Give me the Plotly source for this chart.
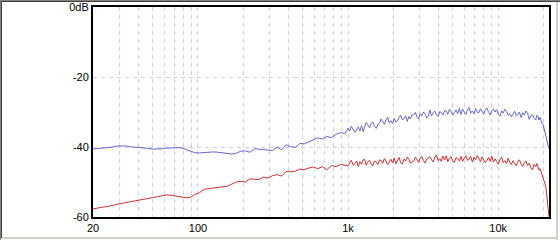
import plotly.graph_objects as go

# ---- data ----
freq_low = [
    20, 21.5, 23, 25, 27, 29, 31, 33, 35, 38,
    41, 44, 47, 50, 54, 58, 62, 67, 72, 77,
    83, 89, 95, 102, 110, 118, 127, 136, 146, 157,
    168, 180, 193, 207, 222, 238, 255, 273, 293, 314,
    337, 361, 387, 415, 445, 477, 511, 548, 587, 629,
    674, 722, 774, 830, 890, 954,
]
blue_low = [
    -40.6, -40.5, -40.3, -40.1, -40.0, -39.7, -39.6, -39.7, -39.9, -40.0,
    -40.2, -40.3, -40.4, -40.6, -40.6, -40.5, -40.3, -40.2, -40.2, -40.2,
    -40.7, -41.2, -41.6, -41.7, -41.6, -41.3, -41.4, -41.5, -41.6, -41.8,
    -42.0, -41.8, -41.2, -41.1, -41.5, -40.5, -40.6, -40.6, -40.7, -41.0,
    -40.0, -40.8, -39.4, -39.9, -40.1, -39.0, -39.1, -38.5, -38.0, -37.4,
    -37.7, -37.0, -37.3, -36.4, -35.9, -36.1,
]
red_low = [
    -57.7, -57.4, -57.2, -57.0, -56.6, -56.3, -56.1, -55.9, -55.7, -55.4,
    -55.2, -55.0, -54.7, -54.5, -54.2, -54.0, -53.7, -53.8, -54.1, -54.3,
    -54.5, -54.4, -53.6, -53.1, -52.1, -51.9, -51.7, -51.5, -51.4, -51.2,
    -50.6, -50.0, -49.8, -50.0, -49.1, -49.3, -49.3, -48.6, -48.9, -48.2,
    -47.9, -48.3, -47.0, -47.1, -46.9, -46.3, -46.5, -46.0, -45.7, -46.2,
    -45.6, -46.5, -45.3, -45.6, -45.0, -45.2,
]

freq_high = [
    1000, 1025, 1050, 1080, 1110, 1140, 1170, 1200, 1230, 1260,
    1290, 1320, 1355, 1390, 1425, 1460, 1500, 1540, 1580, 1620,
    1660, 1700, 1745, 1790, 1835, 1880, 1930, 1980, 2030, 2080,
    2130, 2185, 2240, 2300, 2360, 2420, 2480, 2540, 2600, 2670,
    2740, 2810, 2880, 2950, 3020, 3100, 3180, 3260, 3340, 3420,
    3510, 3600, 3690, 3780, 3880, 3980, 4080, 4180, 4290, 4400,
    4510, 4620, 4740, 4860, 4980, 5110, 5240, 5370, 5510, 5650,
    5790, 5940, 6090, 6240, 6400, 6560, 6730, 6900, 7070, 7250,
    7430, 7620, 7810, 8010, 8210, 8420, 8630, 8850, 9070, 9300,
    9540, 9780, 10030, 10280, 10540, 10810, 11080, 11360, 11650, 11940,
    12240, 12550, 12870, 13190, 13520, 13860, 14210, 14570, 14940, 15310,
    15700, 16090, 16500, 16910, 17340, 17780, 18100, 18400, 18700, 19000,
    19300, 19600, 19900, 20200, 20500, 20800, 21100, 21400, 21700, 22050,
]
blue_high = [
    -34.6, -35.5, -34.1, -34.8, -35.8, -35.1, -34.3, -35.4, -33.9, -35.6,
    -34.1, -33.0, -33.7, -34.5, -33.2, -32.8, -34.0, -34.7, -33.5, -33.1,
    -32.0, -32.8, -33.5, -32.2, -31.5, -33.1, -32.5, -33.3, -31.8, -32.9,
    -32.5, -31.6, -30.9, -32.2, -31.9, -31.1, -32.7, -31.3, -32.0, -30.8,
    -30.8, -30.1, -31.5, -32.0, -30.5, -31.1, -30.0, -30.6, -31.7, -31.3,
    -29.4, -31.1, -30.1, -29.7, -30.8, -31.3, -29.9, -30.2, -30.9, -29.6,
    -29.7, -30.6, -29.2, -29.9, -30.9, -30.2, -29.4, -30.5, -29.0, -30.7,
    -29.2, -30.0, -30.7, -29.4, -28.7, -30.3, -29.7, -30.5, -29.0, -30.1,
    -30.2, -29.1, -29.8, -30.6, -29.3, -28.9, -30.1, -30.8, -29.6, -29.2,
    -30.0, -29.3, -30.7, -31.2, -29.7, -30.3, -29.2, -29.8, -30.9, -30.5,
    -31.4, -30.5, -29.8, -31.1, -30.8, -30.0, -31.6, -30.2, -30.9, -29.7,
    -30.4, -32.1, -31.1, -30.7, -31.8, -32.3, -30.9, -31.2, -32.3, -31.5,
    -32.3, -33.4, -33.5, -34.8, -35.6, -37.1, -37.9, -39.2, -40.0, -41.0,
]
red_high = [
    -45.4, -44.5, -43.8, -45.1, -44.8, -44.0, -45.6, -44.2, -44.9, -43.7,
    -43.5, -45.2, -44.2, -43.8, -44.9, -45.4, -44.0, -44.3, -45.0, -43.7,
    -43.8, -44.7, -43.3, -44.0, -45.0, -44.3, -43.5, -44.6, -43.1, -44.8,
    -43.7, -43.0, -44.4, -44.9, -43.4, -44.0, -42.9, -43.5, -44.6, -44.2,
    -44.0, -42.9, -43.6, -44.4, -43.1, -42.7, -43.9, -44.6, -43.4, -43.0,
    -42.8, -43.6, -44.3, -43.0, -42.3, -43.9, -43.3, -44.1, -42.6, -43.7,
    -42.5, -44.2, -43.2, -42.8, -43.9, -44.4, -43.0, -43.3, -44.0, -42.7,
    -44.1, -43.2, -42.5, -43.8, -43.5, -42.7, -44.3, -42.9, -43.6, -42.4,
    -43.3, -44.2, -42.8, -43.5, -44.5, -43.8, -43.0, -44.1, -42.6, -44.3,
    -43.4, -44.2, -44.9, -43.6, -42.9, -44.5, -43.9, -44.7, -43.2, -44.3,
    -45.0, -43.9, -44.6, -45.4, -44.1, -43.7, -44.9, -45.6, -44.4, -44.0,
    -45.3, -44.6, -46.0, -46.5, -45.0, -45.6, -44.7, -45.5, -46.6, -46.2,
    -47.0, -47.8, -48.4, -49.5, -50.5, -51.5, -55.0, -57.5, -59.2, -61.0,
]

freq = freq_low + freq_high
blue_db = blue_low + blue_high
red_db = red_low + red_high

x_grid = [20, 30, 40, 50, 60, 70, 80, 90,
          100, 200, 300, 400, 500, 600, 700, 800, 900,
          1000, 2000, 3000, 4000, 5000, 6000, 7000, 8000, 9000,
          10000, 20000]
x_labels = {20: "20", 100: "100", 1000: "1k", 10000: "10k"}
y_ticks = [0, -20, -40, -60]
y_labels = ["0dB", "-20", "-40", "-60"]

# ---- figure ----
W, H = 560, 240
L, R, T, B = 93, 11, 7, 23
PW, PH = W - L - R, H - T - B


def px(x):
    return (x - L) / PW


def py(y):
    return 1 - (y - T) / PH


fig = go.Figure()
fig.add_trace(go.Scatter(x=freq, y=blue_db, mode="lines",
                         line=dict(color="#6666cc", width=1), hoverinfo="skip"))
fig.add_trace(go.Scatter(x=freq, y=red_db, mode="lines",
                         line=dict(color="#cc3333", width=1), hoverinfo="skip"))

font = dict(family="Liberation Sans, Arial, sans-serif", size=11, color="#000000")

fig.update_xaxes(
    type="log", range=[1.30103, 4.3385],
    tickmode="array", tickvals=x_grid,
    ticktext=[x_labels.get(v, "") for v in x_grid],
    showgrid=True, gridcolor="#ccccff", gridwidth=1, griddash="4px,4px",
    showline=True, linecolor="#000000", linewidth=2, mirror=True,
    ticks="", zeroline=False, tickfont=font, tickangle=0, automargin=False,
)
fig.update_yaxes(
    range=[-60, 0], tickmode="array", tickvals=y_ticks, ticktext=y_labels,
    showgrid=True, gridcolor="#ccccff", gridwidth=1, griddash="4px,4px",
    showline=True, linecolor="#000000", linewidth=2, mirror=True,
    ticks="", zeroline=False, tickfont=font, automargin=False,
)

shapes = [
    # sunken window frame
    dict(type="rect", xref="paper", yref="paper", x0=px(0), x1=px(W), y0=py(0), y1=py(1),
         fillcolor="#808080", line=dict(width=0), layer="above"),
    dict(type="rect", xref="paper", yref="paper", x0=px(1), x1=px(W), y0=py(1), y1=py(2),
         fillcolor="#404040", line=dict(width=0), layer="above"),
    dict(type="rect", xref="paper", yref="paper", x0=px(0), x1=px(1), y0=py(0), y1=py(H),
         fillcolor="#808080", line=dict(width=0), layer="above"),
    dict(type="rect", xref="paper", yref="paper", x0=px(1), x1=px(2), y0=py(1), y1=py(H - 2),
         fillcolor="#404040", line=dict(width=0), layer="above"),
    dict(type="rect", xref="paper", yref="paper", x0=px(556), x1=px(558), y0=py(2), y1=py(H),
         fillcolor="#d4d0c8", line=dict(width=0), layer="above"),
    dict(type="rect", xref="paper", yref="paper", x0=px(2), x1=px(558), y0=py(237), y1=py(239),
         fillcolor="#d4d0c8", line=dict(width=0), layer="above"),
]

fig.update_layout(
    width=W, height=H, margin=dict(l=L, r=R, t=T, b=B, pad=0),
    paper_bgcolor="#ffffff", plot_bgcolor="#ffffff",
    showlegend=False, shapes=shapes, font=font,
)

fig.write_html("out.html", config={"displayModeBar": False})
